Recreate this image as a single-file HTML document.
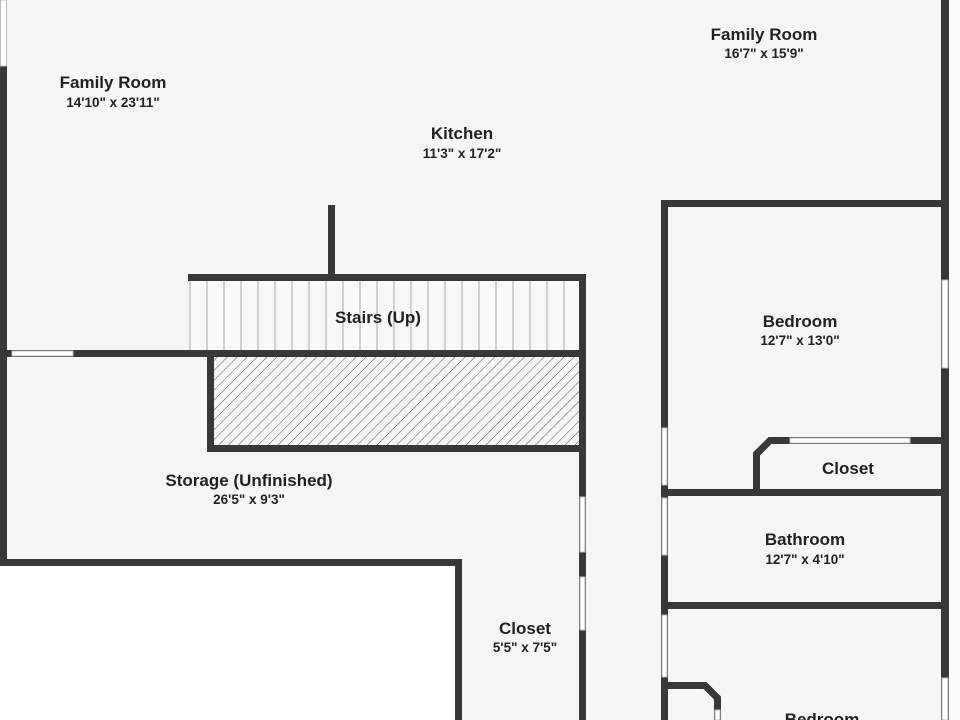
<!DOCTYPE html>
<html><head><meta charset="utf-8"><style>
html,body{margin:0;padding:0;background:#fff}
svg{display:block}
text{font-family:"Liberation Sans",sans-serif;font-weight:bold;fill:#222;text-anchor:middle}
.n{font-size:17px}.d{font-size:13.5px}
</style></head><body>
<svg width="960" height="720" viewBox="0 0 960 720" xmlns="http://www.w3.org/2000/svg">
<defs>
<pattern id="h" width="7" height="7" patternUnits="userSpaceOnUse" patternTransform="rotate(45)">
<rect width="7" height="7" fill="#f5f5f5"/><line x1="0" y1="0" x2="0" y2="7" stroke="#555" stroke-width="1"/>
</pattern>
</defs>
<rect x="0" y="0" width="960" height="720" fill="#fff"/>
<path d="M0 0 H948 V720 H462 V566 H0 Z" fill="#f5f5f5"/>
<rect x="949" y="0" width="11" height="720" fill="#fafafa"/>
<rect x="190" y="281" width="390" height="69" fill="#f8f8f8"/>
<g stroke="#aaa" stroke-width="1">
<line x1="207" y1="281" x2="207" y2="350"/><line x1="224" y1="281" x2="224" y2="350"/><line x1="241" y1="281" x2="241" y2="350"/><line x1="258" y1="281" x2="258" y2="350"/><line x1="275" y1="281" x2="275" y2="350"/><line x1="292" y1="281" x2="292" y2="350"/><line x1="309" y1="281" x2="309" y2="350"/><line x1="326" y1="281" x2="326" y2="350"/><line x1="343" y1="281" x2="343" y2="350"/><line x1="360" y1="281" x2="360" y2="350"/><line x1="377" y1="281" x2="377" y2="350"/><line x1="394" y1="281" x2="394" y2="350"/><line x1="411" y1="281" x2="411" y2="350"/><line x1="428" y1="281" x2="428" y2="350"/><line x1="445" y1="281" x2="445" y2="350"/><line x1="462" y1="281" x2="462" y2="350"/><line x1="479" y1="281" x2="479" y2="350"/><line x1="496" y1="281" x2="496" y2="350"/><line x1="513" y1="281" x2="513" y2="350"/><line x1="530" y1="281" x2="530" y2="350"/><line x1="547" y1="281" x2="547" y2="350"/><line x1="564" y1="281" x2="564" y2="350"/>
<line x1="190" y1="281" x2="190" y2="350"/>
</g>
<rect x="213" y="357" width="367" height="88" fill="url(#h)"/>
<g fill="#383838">
<rect x="0" y="66" width="7" height="500"/>
<rect x="0" y="559" width="462" height="7"/>
<rect x="455" y="559" width="7" height="161"/>
<rect x="188" y="274" width="398" height="7"/>
<rect x="328" y="205" width="7" height="76"/>
<rect x="0" y="350" width="586" height="7"/>
<rect x="207" y="350" width="7" height="102"/>
<rect x="207" y="445" width="379" height="7"/>
<rect x="579" y="274" width="7" height="446"/>
<rect x="941" y="0" width="8" height="720"/>
<rect x="661" y="200" width="288" height="7"/>
<rect x="661" y="200" width="7" height="520"/>
<rect x="661" y="489" width="288" height="7"/>
<rect x="661" y="602" width="288" height="7"/>
</g>
<g fill="none" stroke="#383838" stroke-width="7" stroke-linejoin="miter">
<path d="M756.5 493 V454 L770 440.5 H948"/>
<path d="M664 685.5 H705 L717.5 698 V720"/>
</g>
<g fill="#fff" stroke="#bbb" stroke-width="1">
<rect x="0.5" y="0" width="6" height="66"/>
<rect x="12" y="351" width="61" height="5"/>
<rect x="580" y="497" width="5" height="55"/>
<rect x="580" y="577" width="5" height="53"/>
<rect x="662" y="428" width="5" height="57"/>
<rect x="662" y="498" width="5" height="57"/>
<rect x="662" y="615" width="5" height="62"/>
<rect x="790" y="438" width="120" height="5"/>
<rect x="942" y="280" width="6" height="88"/>
<rect x="942" y="678" width="6" height="42"/>
<rect x="715" y="710" width="5" height="10"/>
</g>
<text class="n" x="113" y="88">Family Room</text><text class="d" x="113" y="107">14'10" x 23'11"</text>
<text class="n" x="462" y="139">Kitchen</text><text class="d" x="462" y="158">11'3" x 17'2"</text>
<text class="n" x="764" y="40">Family Room</text><text class="d" x="764" y="58">16'7" x 15'9"</text>
<text class="n" x="378" y="323">Stairs (Up)</text>
<text class="n" x="800" y="327">Bedroom</text><text class="d" x="800" y="345">12'7" x 13'0"</text>
<text class="n" x="848" y="474">Closet</text>
<text class="n" x="805" y="545">Bathroom</text><text class="d" x="805" y="564">12'7" x 4'10"</text>
<text class="n" x="249" y="486">Storage (Unfinished)</text><text class="d" x="249" y="504">26'5" x 9'3"</text>
<text class="n" x="525" y="634">Closet</text><text class="d" x="525" y="652">5'5" x 7'5"</text>
<text class="n" x="822" y="725">Bedroom</text>
</svg>
</body></html>
